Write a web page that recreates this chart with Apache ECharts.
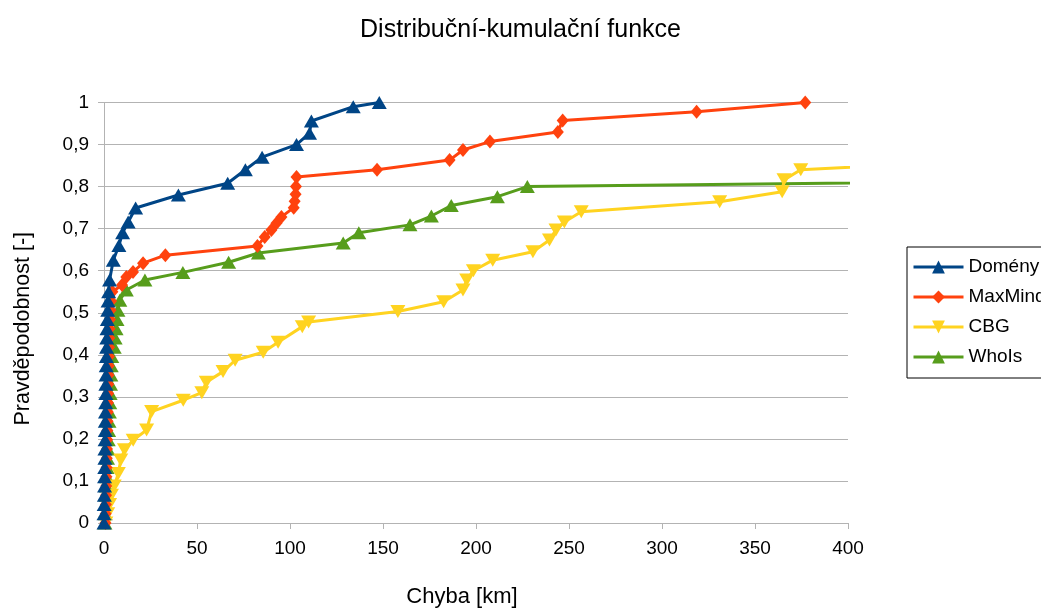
<!DOCTYPE html>
<html>
<head>
<meta charset="utf-8">
<script src="https://cdn.jsdelivr.net/npm/echarts@6/dist/echarts.min.js"></script>
<style>html,body{margin:0;padding:0;background:#fff;}#c{width:1041px;height:610px;}</style>
</head>
<body>
<div id="c"></div>
<script>
// ---- data ----
const seriesNames = ['Domény', 'MaxMind', 'CBG', 'WhoIs'];

const domenyX = [0, 0, 0.1, 0.2, 0.3, 0.3, 0.4, 0.5, 0.5, 0.6, 0.7, 0.7, 0.8, 0.9, 1.0, 1.0, 1.1, 1.2, 1.3, 1.4, 1.5, 1.6, 1.8, 2.0, 2.2, 2.5, 3, 5, 8, 10, 13, 17, 40, 66.5, 76, 85, 103.5, 110.5, 111.5, 134, 148];
const domenyY = [0, 0.022, 0.044, 0.066, 0.088, 0.11, 0.132, 0.154, 0.176, 0.198, 0.22, 0.242, 0.264, 0.286, 0.308, 0.33, 0.352, 0.374, 0.396, 0.418, 0.44, 0.462, 0.484, 0.506, 0.528, 0.55, 0.578, 0.625, 0.66, 0.69, 0.716, 0.749, 0.78, 0.808, 0.84, 0.87, 0.90, 0.927, 0.956, 0.99, 1.0];

const maxmindX = [0.8, 0.9, 1.0, 1.1, 1.2, 1.3, 1.4, 1.5, 1.6, 1.7, 1.8, 1.9, 2.0, 2.1, 2.2, 2.3, 2.4, 2.5, 2.6, 2.7, 2.8, 3.0, 3.2, 3.5, 3.8, 4.5, 9.7, 12, 15.6, 21, 33, 82.5, 86.4, 90, 92.7, 95.4, 102, 102.5, 103, 103.2, 103.5, 146.8, 185.8, 193, 207.5, 244, 246.6, 318.6, 377];
const maxmindY = [0, 0.022, 0.044, 0.066, 0.088, 0.11, 0.132, 0.154, 0.176, 0.198, 0.22, 0.242, 0.264, 0.286, 0.308, 0.33, 0.352, 0.374, 0.396, 0.418, 0.44, 0.462, 0.484, 0.506, 0.528, 0.55, 0.566, 0.585, 0.597, 0.618, 0.637, 0.659, 0.68, 0.697, 0.713, 0.728, 0.75, 0.765, 0.782, 0.80, 0.823, 0.84, 0.863, 0.887, 0.907, 0.93, 0.957, 0.978, 1.0];

const cbgX = [1, 2, 3, 4, 5.5, 7.7, 9, 11, 15.7, 22.9, 25.6, 42.6, 52.6, 55, 64, 70.5, 85.6, 93.6, 106.6, 110, 158, 182.6, 193, 195, 198.6, 209, 230.6, 239.5, 243, 247.5, 256.6, 331, 364.6, 365.6, 374.6, 520];
const cbgY = [0, 0.022, 0.044, 0.066, 0.088, 0.118, 0.15, 0.174, 0.197, 0.221, 0.265, 0.292, 0.31, 0.335, 0.36, 0.387, 0.406, 0.43, 0.467, 0.478, 0.503, 0.526, 0.554, 0.578, 0.60, 0.625, 0.645, 0.673, 0.697, 0.716, 0.74, 0.764, 0.788, 0.816, 0.84, 0.874];

const whoisX = [0.5, 0.7, 0.9, 1.1, 1.3, 1.5, 1.7, 1.9, 2.1, 2.3, 2.5, 2.7, 2.9, 3.1, 3.3, 3.5, 3.7, 3.9, 4.2, 5.5, 6, 6.5, 7, 7.5, 8.5, 12, 22, 42.4, 67, 83, 128.6, 137, 164.5, 176, 186.7, 211.5, 227.6, 600];
const whoisY = [0, 0.022, 0.044, 0.066, 0.088, 0.11, 0.132, 0.154, 0.176, 0.198, 0.22, 0.242, 0.264, 0.286, 0.308, 0.33, 0.352, 0.374, 0.396, 0.418, 0.44, 0.462, 0.484, 0.506, 0.53, 0.554, 0.578, 0.596, 0.62, 0.642, 0.666, 0.69, 0.709, 0.73, 0.755, 0.776, 0.80, 0.819];

const xTicks = [0, 50, 100, 150, 200, 250, 300, 350, 400];
const yTicks = [0, 0.1, 0.2, 0.3, 0.4, 0.5, 0.6, 0.7, 0.8, 0.9, 1];

// ---- chart ----
const zip = (xs, ys) => xs.map((x, i) => [x, ys[i]]);
const FONT = '"Liberation Sans", Arial, sans-serif';
const colors = ['#004586', '#ff420e', '#ffd320', '#579d1c'];

function lineSeries(name, data, color, symbol, size, rotate, z) {
  return {
    name: name, type: 'line', data: data, z: z,
    symbol: symbol, symbolSize: size, symbolRotate: rotate,
    showSymbol: true, showAllSymbol: true, clip: true,
    lineStyle: { color: color, width: 3 },
    itemStyle: { color: color },
    emphasis: { disabled: true },
    animation: false
  };
}

const chart = echarts.init(document.getElementById('c'), null, { renderer: 'canvas' });
chart.setOption({
  backgroundColor: '#ffffff',
  animation: false,
  textStyle: { fontFamily: FONT },
  title: {
    text: 'Distribuční-kumulační funkce',
    left: 'center', top: 13,
    textStyle: { fontFamily: FONT, fontSize: 25, fontWeight: 'normal', color: '#000' }
  },
  legend: {
    orient: 'vertical', left: 907, top: 247,
    data: seriesNames,
    borderColor: '#000', borderWidth: 1,
    padding: [10, 10, 11, 5],
    itemWidth: 50, itemHeight: 16, itemGap: 10,
    lineStyle: { width: 3 },
    textStyle: { fontFamily: FONT, fontSize: 19, color: '#000', lineHeight: 20 }
  },
  grid: { left: 104, right: 193, top: 102.5, bottom: 87, containLabel: false, outerBoundsMode: 'none' },
  xAxis: {
    type: 'value', min: xTicks[0], max: xTicks[xTicks.length - 1], interval: 50,
    name: 'Chyba [km]', nameLocation: 'middle', nameGap: 63,
    nameTextStyle: { fontFamily: FONT, fontSize: 22, color: '#000', padding: [0, 28, 0, 0] },
    axisLine: { show: true, onZero: false, lineStyle: { color: '#b3b3b3', width: 1 } },
    axisTick: { show: true, length: 6, lineStyle: { color: '#b3b3b3' } },
    splitLine: { show: false },
    axisLabel: { margin: 16, fontFamily: FONT, fontSize: 19, color: '#000' }
  },
  yAxis: {
    type: 'value', min: yTicks[0], max: yTicks[yTicks.length - 1], interval: 0.1,
    name: 'Pravděpodobnost [-]', nameLocation: 'middle', nameGap: 70,
    nameTextStyle: { fontFamily: FONT, fontSize: 21.5, color: '#000', padding: [0, 32, 0, 0] },
    axisLine: { show: true, lineStyle: { color: '#b3b3b3', width: 1 } },
    axisTick: { show: true, length: 6, lineStyle: { color: '#b3b3b3' } },
    splitLine: { show: true, lineStyle: { color: '#b3b3b3', width: 1 } },
    axisLabel: {
      margin: 15, fontFamily: FONT, fontSize: 19, color: '#000',
      formatter: v => String(Math.round(v * 10) / 10).replace('.', ',')
    }
  },
  series: [
    lineSeries(seriesNames[0], zip(domenyX, domenyY), colors[0], 'triangle', [15, 13], 0, 5),
    lineSeries(seriesNames[1], zip(maxmindX, maxmindY), colors[1], 'diamond', [12, 14], 0, 4),
    lineSeries(seriesNames[2], zip(cbgX, cbgY), colors[2], 'triangle', [15, 13], 180, 3),
    lineSeries(seriesNames[3], zip(whoisX, whoisY), colors[3], 'triangle', [15, 13], 0, 2)
  ]
});
</script>
</body>
</html>
